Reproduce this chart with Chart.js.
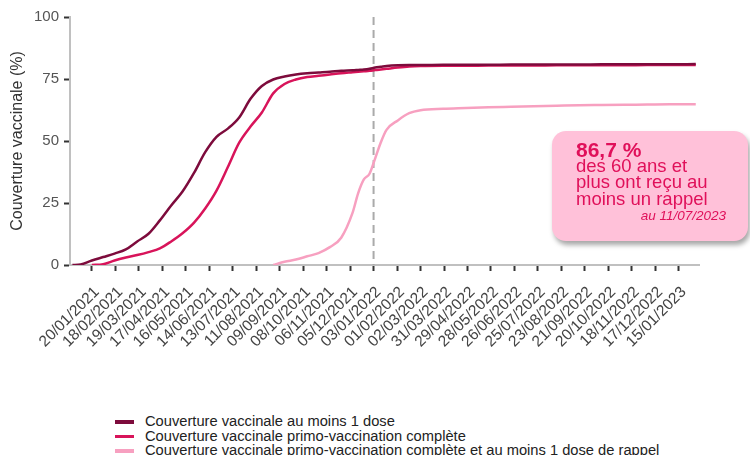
<!DOCTYPE html>
<html>
<head>
<meta charset="utf-8">
<script src="https://cdn.jsdelivr.net/npm/chart.js@4/dist/chart.umd.min.js"></script>
<style>
body{margin:0;background:#fff;font-family:"Liberation Sans",Arial,sans-serif;}
#wrap{position:relative;width:750px;height:455px;overflow:hidden;}
#graphique{position:absolute;left:0;top:0;}
#encadre{position:absolute;left:552px;top:131px;width:196px;height:110px;background:#ffc1d9;border-radius:14px;box-shadow:2px 4px 5px rgba(0,0,0,0.35);color:#e0105a;}
#encadre .gros{position:absolute;left:24px;top:8px;font-size:21px;line-height:21px;font-weight:bold;white-space:nowrap;}
#encadre .texte{position:absolute;left:24px;top:27px;font-size:18.5px;line-height:16.3px;white-space:nowrap;}
#encadre .date{position:absolute;right:22px;top:78px;font-size:13.5px;line-height:14px;font-style:italic;white-space:nowrap;}
#legende{position:absolute;left:115px;top:414px;font-size:14.7px;color:#222;}
#legende div{height:14.5px;line-height:14.5px;position:relative;padding-left:30px;white-space:nowrap;}
#legende span{position:absolute;left:0;top:6px;width:19px;height:3.5px;}
</style>
</head>
<body>
<div id="wrap">
<canvas id="graphique" width="750" height="400"></canvas>
<div id="encadre">
<div class="gros">86,7 %</div>
<div class="texte">des 60 ans et<br>plus ont reçu au<br>moins un rappel</div>
<div class="date">au 11/07/2023</div>
</div>
<div id="legende"></div>
</div>
<script>
// etiquettes de l'axe x (tous les 29 jours)
var tickLabels = ['20/01/2021','18/02/2021','19/03/2021','17/04/2021','16/05/2021','14/06/2021','13/07/2021','11/08/2021','09/09/2021','08/10/2021','06/11/2021','05/12/2021','03/01/2022','01/02/2022','02/03/2022','31/03/2022','29/04/2022','28/05/2022','26/06/2022','25/07/2022','23/08/2022','21/09/2022','20/10/2022','18/11/2022','17/12/2022','15/01/2023'];

// dates des points
var dates = ['27/12/2020','06/01/2021','20/01/2021','03/02/2021','17/02/2021','03/03/2021','17/03/2021','31/03/2021','14/04/2021','28/04/2021','12/05/2021','26/05/2021','09/06/2021','23/06/2021','07/07/2021','21/07/2021','04/08/2021','18/08/2021','01/09/2021','15/09/2021','29/09/2021','13/10/2021','27/10/2021','10/11/2021','24/11/2021','08/12/2021','15/12/2021','22/12/2021','29/12/2021','05/01/2022','12/01/2022','19/01/2022','02/02/2022','16/02/2022','02/03/2022','30/03/2022','27/04/2022','25/05/2022','22/06/2022','20/07/2022','17/08/2022','14/09/2022','12/10/2022','09/11/2022','07/12/2022','04/01/2023','05/02/2023'];

var auMoins1Dose = [0,0.2,1.8,3.2,4.6,6.3,9.5,12.6,18,24,29.6,37,45.5,51.7,55,59.5,67,72.2,74.8,76,76.8,77.3,77.6,77.9,78.3,78.5,78.65,78.8,79.1,79.6,79.9,80.2,80.5,80.6,80.6,80.7,80.7,80.7,80.8,80.8,80.8,80.8,80.9,80.9,80.9,80.9,81.0];
var primoComplete = [null,null,0,0.3,1.8,3,4,5.2,6.7,9.5,12.8,17,22.8,30,39.5,49.3,55.8,61.5,69.2,73,74.8,75.8,76.3,76.8,77.3,77.7,77.9,78.1,78.3,78.6,78.85,79.1,79.6,80,80.2,80.3,80.3,80.4,80.4,80.4,80.5,80.5,80.5,80.5,80.6,80.6,80.6];
var rappel = [null,null,null,null,null,null,null,null,null,null,null,null,null,null,null,null,null,null,0,1.3,2.2,3.5,4.8,7.2,11,21,29,34.5,36.8,43,49.5,54.5,58.3,61.2,62.4,63.0,63.3,63.6,63.8,64.0,64.2,64.4,64.5,64.6,64.7,64.8,64.8];

var ligneDate = '03/01/2022';

// jours depuis le 20/01/2021
function jour(s) {
    var p = s.split('/');
    return (Date.UTC(+p[2], +p[1] - 1, +p[0]) - Date.UTC(2021, 0, 20)) / 86400000;
}
function points(valeurs) {
    var res = [];
    for (let i = 0; i < dates.length; i++) {
        res.push({x: jour(dates[i]), y: valeurs[i]});
    }
    return res;
}
var tickJours = tickLabels.map(jour);

var ligneRef = {
    id: 'ligneRef',
    beforeDatasetsDraw: function (chart) {
        var ctx = chart.ctx;
        var x = chart.scales.x.getPixelForValue(jour(ligneDate));
        ctx.save();
        ctx.setLineDash([8, 5]);
        ctx.strokeStyle = '#aaaaaa';
        ctx.lineWidth = 2;
        ctx.beginPath();
        ctx.moveTo(x, chart.chartArea.top);
        ctx.lineTo(x, chart.chartArea.bottom);
        ctx.stroke();
        ctx.restore();
    }
};

var series = [
    {label: 'Couverture vaccinale au moins 1 dose', data: points(auMoins1Dose), borderColor: '#7d0b3c'},
    {label: 'Couverture vaccinale primo-vaccination complète', data: points(primoComplete), borderColor: '#d8145a'},
    {label: 'Couverture vaccinale primo-vaccination complète et au moins 1 dose de rappel', data: points(rappel), borderColor: '#f7a0c0'}
];
series.forEach(function (s) {
    s.borderWidth = 2.5;
    s.pointRadius = 0;
    s.cubicInterpolationMode = 'monotone';
    s.spanGaps = false;
});

Chart.defaults.font.family = '"Liberation Sans", Arial, sans-serif';

var chart = new Chart(document.getElementById('graphique').getContext('2d'), {
    type: 'line',
    data: {datasets: series},
    plugins: [ligneRef],
    options: {
        responsive: false,
        animation: false,
        layout: {padding: {left: 6, right: 51, top: 17, bottom: 0}},
        plugins: {legend: {display: false}, tooltip: {enabled: false}},
        scales: {
            x: {
                type: 'linear',
                min: -27,
                max: 750,
                afterBuildTicks: function (s) {
                    s.ticks = tickJours.map(function (v) { return {value: v}; });
                },
                afterFit: function (s) { s.height = 135; },
                ticks: {
                    autoSkip: false,
                    minRotation: 45,
                    maxRotation: 45,
                    padding: 12,
                    labelOffset: 5,
                    color: '#444',
                    font: {size: 15.5},
                    callback: function (v, i) { return tickLabels[i]; }
                },
                grid: {drawOnChartArea: false, tickLength: 6, tickWidth: 2, tickColor: '#333'},
                border: {color: '#c0c0c0', width: 2}
            },
            y: {
                min: 0,
                max: 100,
                afterFit: function (s) { s.width = 64; },
                ticks: {stepSize: 25, padding: 5, color: '#555', font: {size: 15}},
                grid: {drawOnChartArea: false, tickLength: 6, tickWidth: 2, tickColor: '#333'},
                border: {color: '#c0c0c0', width: 2},
                title: {display: true, text: 'Couverture vaccinale (%)', color: '#333', font: {size: 16}, padding: {top: 2, bottom: 4}}
            }
        }
    }
});

// legende en colonne
var legende = document.getElementById('legende');
for (let i = 0; i < series.length; i++) {
    var ligne = document.createElement('div');
    var trait = document.createElement('span');
    trait.style.background = series[i].borderColor;
    ligne.appendChild(trait);
    ligne.appendChild(document.createTextNode(series[i].label));
    legende.appendChild(ligne);
}
</script>
</body>
</html>
